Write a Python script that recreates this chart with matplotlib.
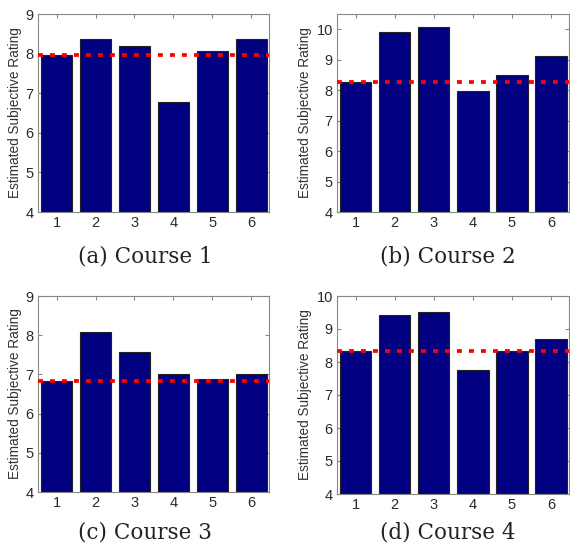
import matplotlib.pyplot as plt

courses = [1, 2, 3, 4, 5, 6]

course1 = [7.97, 8.38, 8.19, 6.79, 8.06, 8.38]
course2 = [8.26, 9.90, 10.07, 7.98, 8.50, 9.11]
course3 = [6.83, 8.09, 7.58, 7.00, 6.87, 7.00]
course4 = [8.34, 9.42, 9.51, 7.76, 8.34, 8.70]

captions = ["(a) Course 1", "(b) Course 2", "(c) Course 3", "(d) Course 4"]
ylims = [(4, 9), (4, 10.5), (4, 9), (4, 10)]

plt.rcParams['font.family'] = ['Liberation Sans', 'DejaVu Sans']

W, H = 570, 553
fig = plt.figure(figsize=(W / 100, H / 100), dpi=100)

# axes boxes in pixels: left, top, right, bottom
boxes = [(38, 14, 269, 212), (337, 14, 569, 212),
         (38, 296, 269, 492), (337, 296, 569, 494)]
cap_pos = [(145, 257), (448, 257), (145, 533), (448, 533)]

for vals, cap, yl, box, cp in zip([course1, course2, course3, course4],
                                  captions, ylims, boxes, cap_pos):
    l, t, r, b = box
    ax = fig.add_axes([l / W, 1 - b / H, (r - l) / W, (b - t) / H])
    ax.bar(courses, vals, width=0.8, color='#000080', edgecolor='#222222',
           linewidth=0.8, zorder=2)
    # reference line at course's first value
    ax.axhline(vals[0], color='#ff0000', linestyle=(0, (1.3, 1.9)),
               linewidth=2.7, zorder=3)
    ax.set_xlim(0.52, 6.46)
    ax.set_ylim(*yl)
    ax.set_xticks(courses)
    ax.set_yticks(range(4, int(yl[1]) + 1))
    ax.tick_params(direction='in', top=True, right=True, length=3,
                   labelsize=10.5, labelcolor='#2a2a2a', color='#888888', pad=3)
    for s in ax.spines.values():
        s.set_color('#888888')
        s.set_linewidth(0.8)
    ax.set_ylabel("Estimated Subjective Rating", fontsize=9.8,
                  color='#333333', labelpad=3)
    fig.text(cp[0] / W, 1 - cp[1] / H, cap, ha='center', va='center',
             fontsize=15.5, family='DejaVu Serif', color='#222222')

fig.savefig("out.png", dpi=100)
